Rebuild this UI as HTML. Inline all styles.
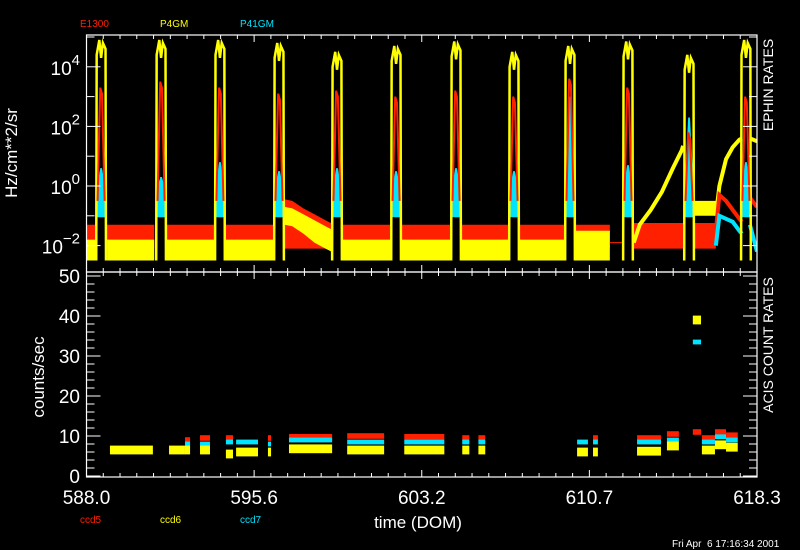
<!DOCTYPE html>
<html><head><meta charset="utf-8"><style>
html,body{margin:0;padding:0;background:#000;}
svg{display:block;font-family:"Liberation Sans",sans-serif;}
</style></head><body>
<svg id="chart" width="800" height="550" viewBox="0 0 800 550" xmlns="http://www.w3.org/2000/svg">
<rect x="0" y="0" width="800" height="550" fill="#000"/>
<defs>
<clipPath id="cTop"><rect x="86.5" y="35" width="670.5" height="237"/></clipPath>
<clipPath id="cBot"><rect x="86.5" y="272" width="670.5" height="205"/></clipPath>
</defs>
<g id="topData" clip-path="url(#cTop)"></g>
<g id="botData" clip-path="url(#cBot)"></g>
<g id="axes"></g>
<text x="80" y="27" fill="#ff2000" font-size="10">E1300</text>
<text x="160" y="27" fill="#ffff00" font-size="10">P4GM</text>
<text x="240" y="27" fill="#00e4ff" font-size="10">P41GM</text>
<text x="80" y="523" fill="#ff2000" font-size="10">ccd5</text>
<text x="160" y="523" fill="#ffff00" font-size="10">ccd6</text>
<text x="240" y="523" fill="#00e4ff" font-size="10">ccd7</text>
<text x="418" y="528" fill="#fff" font-size="17" text-anchor="middle">time (DOM)</text>
<text transform="translate(17,153) rotate(-90)" fill="#fff" font-size="17" text-anchor="middle">Hz/cm**2/sr</text>
<text transform="translate(44,377) rotate(-90)" fill="#fff" font-size="17" text-anchor="middle">counts/sec</text>
<text transform="translate(773,85) rotate(-90)" fill="#fff" font-size="14" text-anchor="middle">EPHIN RATES</text>
<text transform="translate(773,345) rotate(-90)" fill="#fff" font-size="14" text-anchor="middle">ACIS COUNT RATES</text>
<text x="672" y="547" fill="#fff" font-size="10" style="white-space:pre">Fri Apr  6 17:16:34 2001</text>
</svg>
<script>
// ---- top panel data (log10 Hz/cm**2/sr) ----
const spikeT = [588.66,591.37,594.03,596.70,599.32,601.99,604.70,607.32,609.85,612.47,615.23,617.80];
const spikeYel = [4.9,4.9,4.9,4.8,4.5,4.7,4.85,4.5,4.7,4.85,4.4,4.9];
const spikeRed = [3.3,3.5,3.3,3.1,3.2,3.0,3.2,3.0,3.6,3.3,1.8,3.0];
const spikeCyan = [0.6,0.3,0.8,0.5,0.6,0.5,0.6,0.5,3.0,0.7,2.3,0.8];
const quietStart = [588.0,588.93,591.63,594.29,599.58,602.25,604.96,607.58,610.11,612.73,615.49];
const quietEnd   = [588.40,591.06,593.77,596.44,601.73,604.43,607.05,609.59,611.65,614.96,616.44];
const quietRedHi = [-1.3,-1.3,-1.3,-1.3,-1.3,-1.3,-1.3,-1.3,-1.3,-1.24,-1.24];
const quietRedLo = [-2.1,-2.1,-2.1,-2.1,-2.1,-2.1,-2.1,-2.1,-2.1,-2.1,-2.1];
const quietYelHi = [-1.8,-1.8,-1.8,-1.8,-1.8,-1.8,-1.8,-1.8,-1.5,null,-0.5];
const quietYelLo = [-2.5,-2.5,-2.5,-2.5,-2.5,-2.5,-2.5,-2.5,-2.5,null,-1.0];
const humpT = [596.96,597.3,597.8,598.3,598.8,599.06];
const humpRedHi = [-0.45,-0.5,-0.75,-0.95,-1.15,-1.25];
const humpRedLo = [-2.1,-2.1,-2.1,-2.1,-2.1,-2.1];
const humpYelHi = [-0.7,-0.75,-0.95,-1.15,-1.35,-1.45];
const humpYelLo = [-1.3,-1.35,-1.6,-1.9,-2.1,-2.2];
const riseYelT = [612.73,613.0,613.5,614.0,614.5,614.9,614.96];
const riseYel = [-1.9,-1.3,-0.8,-0.2,0.6,1.2,1.35];
const lateT = [616.44,616.6,616.9,617.2,617.5,617.62];
const lateYel = [-1.0,0.0,0.9,1.3,1.55,1.6];
const lateRed = [-1.5,-0.3,-0.5,-0.8,-1.1,-1.2];
const lateCyan = [-2.0,-1.0,-1.1,-1.2,-1.5,-1.6];
const tailT = [617.98,618.3];
const tailYel = [1.6,1.5];
const tailRed = [-0.4,-0.7];
const tailCyan = [-1.3,-2.2];
// ---- bottom panel data (counts/sec) ----
const segStart = [589.06,591.73,592.45,593.13,594.30,594.76,596.20,597.15,599.78,602.36,604.98,605.71,610.17,610.89,612.88,614.23,615.40,615.81,616.40,616.90];
const segEnd   = [591.00,592.45,592.68,593.58,594.62,595.75,596.34,599.10,601.45,604.17,605.30,606.02,610.66,611.11,613.96,614.77,615.77,616.40,616.90,617.43];
const ccd5 = [null,null,9.0,9.5,9.5,null,9.5,9.8,10.0,9.8,9.5,9.5,null,9.5,9.5,10.5,11.0,9.5,11.0,10.2];
const ccd6 = [6.5,6.5,6.5,6.5,5.5,6.0,6.0,6.8,6.5,6.5,6.5,6.5,6.0,6.0,6.2,7.5,39.0,6.5,7.8,7.2];
const ccd7 = [null,null,8.0,8.0,8.5,8.5,8.0,9.0,8.5,8.5,8.5,8.5,8.5,8.5,8.5,9.0,33.5,8.5,9.8,9.0];
const xTickLabels = ["588.0","595.6","603.2","610.7","618.3"];
const topExp = [4,2,0,-2];
const botTicks = [0,10,20,30,40,50];

const NS="http://www.w3.org/2000/svg";
const RED="#ff2000",YEL="#ffff00",CYN="#00e4ff";
const X0=588.0,X1=618.3,PL=86.5,PR=757;
function xS(t){return PL+(t-X0)*(PR-PL)/(X1-X0);}
function yT(l){return 186-l*29.8;}
function yB(v){return 476-v*4;}
function mk(tag,parent){const e=document.createElementNS(NS,tag);parent.appendChild(e);return e;}
const topG=document.getElementById('topData'),botG=document.getElementById('botData'),ax=document.getElementById('axes');
function band(parent,ts,hi,lo,color,name){
  const pts=ts.map((t,i)=>xS(t)+","+yT(hi[i])).concat(ts.slice().reverse().map((t,j)=>xS(t)+","+yT(lo[ts.length-1-j])));
  const p=mk('polygon',parent);p.setAttribute('points',pts.join(' '));p.setAttribute('fill',color);
  
  
}
function line(parent,ts,vs,color,w,name){
  const p=mk('polyline',parent);p.setAttribute('points',ts.map((t,i)=>xS(t)+","+yT(vs[i])).join(' '));
  p.setAttribute('fill','none');p.setAttribute('stroke',color);p.setAttribute('stroke-width',w);
  
  
}
for(let i=0;i<quietStart.length;i++){
  const ts=[quietStart[i],quietEnd[i]];
  band(topG,ts,[quietRedHi[i],quietRedHi[i]],[quietRedLo[i],quietRedLo[i]],RED,'e1300-quiet-band');
  if(quietYelHi[i]!==null) band(topG,ts,[quietYelHi[i],quietYelHi[i]],[quietYelLo[i],quietYelLo[i]],YEL,'p4gm-quiet-band');
}
band(topG,humpT,humpRedHi,humpRedLo,RED,'e1300-hump');
band(topG,humpT,humpYelHi,humpYelLo,YEL,'p4gm-hump');
line(topG,[611.65,612.25],[-1.9,-1.9],RED,1,'e1300-gap-line');
line(topG,riseYelT,riseYel,YEL,4,'p4gm-rise');
line(topG,lateT,lateYel,YEL,4,'p4gm-late');
line(topG,lateT,lateRed,RED,4,'e1300-late');
line(topG,lateT,lateCyan,CYN,4,'p41gm-late');
line(topG,tailT,tailYel,YEL,4,'p4gm-tail');
line(topG,tailT,tailRed,RED,4,'e1300-tail');
line(topG,tailT,tailCyan,CYN,4,'p41gm-tail');
for(let i=0;i<spikeT.length;i++){
  const c=spikeT[i],L=c-0.22,R=c+0.22;
  const cy=mk('polygon',topG);
  cy.setAttribute('points',[[L,-1.05],[L,-0.2],[c-0.04,spikeCyan[i]],[c+0.04,spikeCyan[i]],[R,-0.2],[R,-1.05]].map(p=>xS(p[0])+","+yT(p[1])).join(' '));
  cy.setAttribute('fill',CYN);
  
  
  const pk=spikeYel[i];
  line(topG,[L,L+0.02,c-0.08,c,c+0.08,R-0.02,R],[-2.5,pk-0.5,pk,pk-0.6,pk-0.1,pk-0.3,-2.5],YEL,2.5,'p4gm-spike');
  const rk=spikeRed[i];
  line(topG,[L+0.06,c-0.04,c+0.04,R-0.06],[-0.5,rk,rk-0.2,-0.5],RED,2,'e1300-spike');
}
function bbar(t0,t1,v,h,color,name){
  const r=mk('rect',botG);r.setAttribute('x',xS(t0));r.setAttribute('width',Math.max(2,xS(t1)-xS(t0)));
  r.setAttribute('y',yB(v+h/2));r.setAttribute('height',h*4);r.setAttribute('fill',color);
  
  
}
for(let i=0;i<segStart.length;i++){
  if(ccd5[i]!==null) bbar(segStart[i],segEnd[i],ccd5[i],1.4,RED,'ccd5-cluster');
  if(ccd7[i]!==null) bbar(segStart[i],segEnd[i],ccd7[i],1.2,CYN,'ccd7-cluster');
  if(ccd6[i]!==null) bbar(segStart[i],segEnd[i],ccd6[i],2.2,YEL,'ccd6-cluster');
}
function rl(x1,y1,x2,y2,name){const l=mk('line',ax);l.setAttribute('x1',x1);l.setAttribute('y1',y1);l.setAttribute('x2',x2);l.setAttribute('y2',y2);l.setAttribute('stroke','#fff');l.setAttribute('stroke-width',1);
  
  }
[[35,272],[272,477]].forEach(([a,b])=>{
  const r=mk('rect',ax);r.setAttribute('x',PL);r.setAttribute('y',a);r.setAttribute('width',PR-PL);r.setAttribute('height',b-a);r.setAttribute('fill','none');r.setAttribute('stroke','#fff');r.setAttribute('stroke-width',1.2);
  
  
});
const step=(X1-X0)/40;
for(let k=0;k<=40;k++){
  const x=xS(X0+k*step),maj=k%10===0,len=maj?7:4;
  rl(x,35,x,35+len,'x-tick');rl(x,272,x,272-len,'x-tick');rl(x,272,x,272+len,'x-tick');rl(x,477,x,477-len,'x-tick');
}
xTickLabels.forEach((s,i)=>{
  const t=mk('text',ax);t.textContent=s;t.setAttribute('x',xS(X0+i*10*step));t.setAttribute('y',504);
  t.setAttribute('fill','#fff');t.setAttribute('font-size','19');t.setAttribute('text-anchor','middle');
  
  
});
for(let e=-2;e<=5;e++){
  const y=yT(e);if(y<35||y>272)continue;const maj=e%2===0,len=maj?14:8;
  rl(PL,y,PL+len,y,'top-y-tick');rl(PR,y,PR-len,y,'top-y-tick');
}
topExp.forEach(e=>{
  const t=mk('text',ax);t.setAttribute('x',80);t.setAttribute('y',yT(e)+8);t.setAttribute('fill','#fff');t.setAttribute('font-size','19');t.setAttribute('text-anchor','end');
  
  
  const a=mk('tspan',t);a.textContent='10';
  const b=mk('tspan',t);b.textContent=(e<0?'\u2212':'')+Math.abs(e);b.setAttribute('dy','-10');b.setAttribute('font-size','15');
});
for(let v=0;v<=50;v+=2){
  const y=yB(v),maj=v%10===0,len=maj?14:8;
  rl(PL,y,PL+len,y,'bottom-y-tick');rl(PR,y,PR-len,y,'bottom-y-tick');
}
botTicks.forEach(v=>{
  const t=mk('text',ax);t.textContent=v;t.setAttribute('x',80);t.setAttribute('y',yB(v)+7);t.setAttribute('fill','#fff');t.setAttribute('font-size','19');t.setAttribute('text-anchor','end');
  
  
});
</script>
</body></html>
